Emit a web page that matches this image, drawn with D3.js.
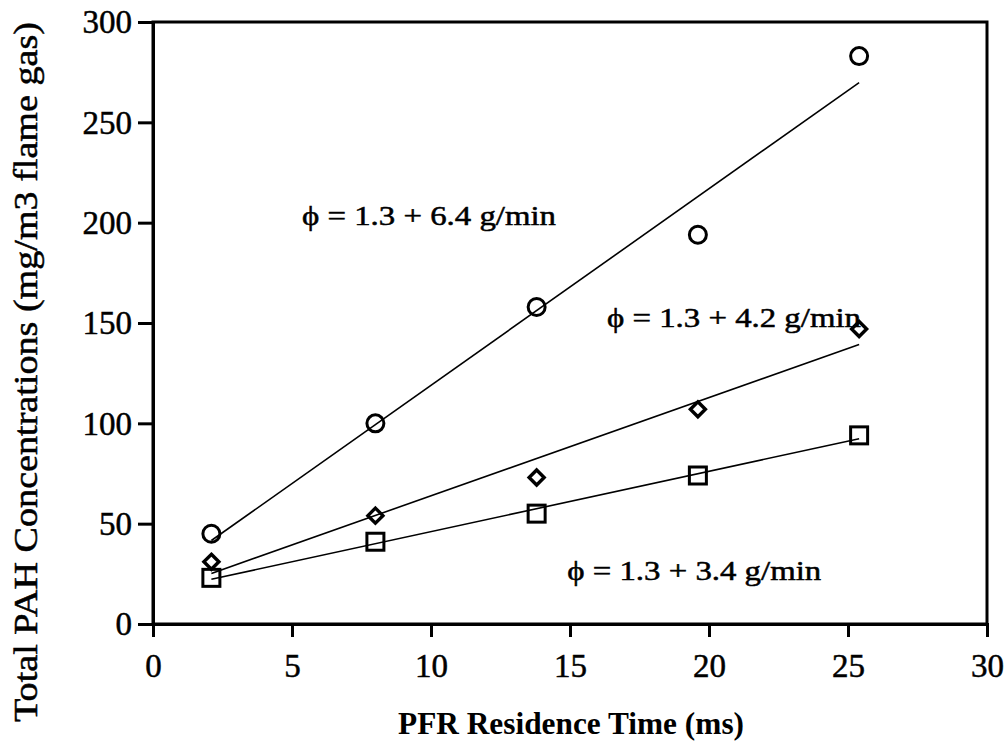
<!DOCTYPE html>
<html>
<head>
<meta charset="utf-8">
<script src="https://cdn.jsdelivr.net/npm/d3@7"></script>
<style>
  html, body { margin: 0; padding: 0; background: #fff; }
  svg { display: block; }
  text { font-family: "Liberation Serif", "Times New Roman", serif; fill: #000; }
</style>
</head>
<body>
<svg id="chart" width="1006" height="742"></svg>
<script>
// Residence times (ms) shared by all three feed rates
const residenceTime = [2.1, 8.0, 13.8, 19.6, 25.4];

// Total PAH concentration (mg/m3 flame gas) for each feed condition
const pah64 = [45, 100, 158, 194, 283];
const pah42 = [31, 54, 73, 107, 147];
const pah34 = [23, 41, 55, 74, 94];

const xTicks = [0, 5, 10, 15, 20, 25, 30];
const yTicks = [0, 50, 100, 150, 200, 250, 300];

const seriesLabels = ["\u03d5 = 1.3 + 6.4 g/min", "\u03d5 = 1.3 + 4.2 g/min", "\u03d5 = 1.3 + 3.4 g/min"];
const markerShapes = ["circle", "diamond", "square"];

const svg = d3.select("#chart");
const W = 1006, H = 742;
const margin = { left: 153, top: 22, right: W - 987, bottom: H - 624 };

const x = d3.scaleLinear().domain([0, 30]).range([margin.left, W - margin.right]);
const y = d3.scaleLinear().domain([0, 300]).range([H - margin.bottom, margin.top]);

const ink = sel => sel.attr("stroke", "#000").attr("stroke-width", 0.5).attr("paint-order", "stroke");

// Plot frame
svg.append("rect")
  .attr("x", x(0)).attr("y", y(300))
  .attr("width", x(30) - x(0)).attr("height", y(0) - y(300))
  .attr("fill", "none").attr("stroke", "#000").attr("stroke-width", 3);

// Axes
const xAxis = svg.append("g")
  .attr("transform", `translate(0,${y(0)})`)
  .call(d3.axisBottom(x).tickValues(xTicks).tickFormat(d3.format("d")).tickSize(13).tickPadding(16.5));
const yAxis = svg.append("g")
  .attr("transform", `translate(${x(0)},0)`)
  .call(d3.axisLeft(y).tickValues(yTicks).tickFormat(d3.format("d")).tickSize(15).tickPadding(6));

[xAxis, yAxis].forEach(g => {
  g.select(".domain").attr("stroke", "#000").attr("stroke-width", 3);
  g.selectAll(".tick line").attr("stroke", "#000").attr("stroke-width", 3);
  g.selectAll(".tick text")
    .style("font-family", '"Liberation Serif", serif')
    .style("font-size", "33px").attr("fill", "#000")
    .call(ink);
});
yAxis.selectAll(".tick text").attr("dy", "0.33em");

// Least-squares trend line for each series
function fit(xs, ys) {
  const mx = d3.mean(xs), my = d3.mean(ys);
  const sxy = d3.sum(xs, (v, i) => (v - mx) * (ys[i] - my));
  const sxx = d3.sum(xs, v => (v - mx) * (v - mx));
  const b = sxy / sxx;
  return { slope: b, intercept: my - b * mx };
}

const allSeries = [pah64, pah42, pah34];
const line = d3.line().x(d => x(d[0])).y(d => y(d[1]));
const xr = d3.extent(residenceTime);

allSeries.forEach((vals) => {
  const f = fit(residenceTime, vals);
  const pts = xr.map(t => [t, f.intercept + f.slope * t]);
  svg.append("path").attr("d", line(pts))
    .attr("fill", "none").attr("stroke", "#000").attr("stroke-width", 1.6);
});

// Markers
allSeries.forEach((vals, si) => {
  const shape = markerShapes[si];
  const g = svg.append("g");
  vals.forEach((v, i) => {
    const cx = x(residenceTime[i]), cy = y(v);
    if (shape === "circle") {
      g.append("circle").attr("cx", cx).attr("cy", cy).attr("r", 8.5)
        .attr("fill", "none").attr("stroke", "#000").attr("stroke-width", 3);
    } else if (shape === "square") {
      g.append("rect").attr("x", cx - 8.5).attr("y", cy - 8.5).attr("width", 17).attr("height", 17)
        .attr("fill", "none").attr("stroke", "#000").attr("stroke-width", 3);
    } else {
      const s = 7.5;
      g.append("path").attr("d", `M${cx},${cy - s}L${cx + s},${cy}L${cx},${cy + s}L${cx - s},${cy}Z`)
        .attr("fill", "none").attr("stroke", "#000").attr("stroke-width", 3.4);
    }
  });
});

// Series annotations
const annot = [
  { text: seriesLabels[0], t: 5.36, v: 199 },
  { text: seriesLabels[1], t: 16.33, v: 148 },
  { text: seriesLabels[2], t: 14.9, v: 22 }
];
svg.selectAll(".annot").data(annot).enter().append("text")
  .attr("class", "annot")
  .attr("x", d => x(d.t)).attr("y", d => y(d.v))
  .attr("textLength", 254).attr("lengthAdjust", "spacingAndGlyphs")
  .style("font-size", "27px")
  .text(d => d.text)
  .call(ink);

// Axis titles
svg.append("text")
  .attr("x", 398).attr("y", 734)
  .attr("textLength", 346).attr("lengthAdjust", "spacingAndGlyphs")
  .style("font-size", "32px").style("font-weight", "bold")
  .text("PFR Residence Time (ms)");

svg.append("text")
  .attr("transform", `translate(36.5,722) rotate(-90)`)
  .attr("textLength", 700).attr("lengthAdjust", "spacingAndGlyphs")
  .style("font-size", "33px")
  .text("Total PAH Concentrations (mg/m3 flame gas)")
  .call(ink);
</script>
</body>
</html>
